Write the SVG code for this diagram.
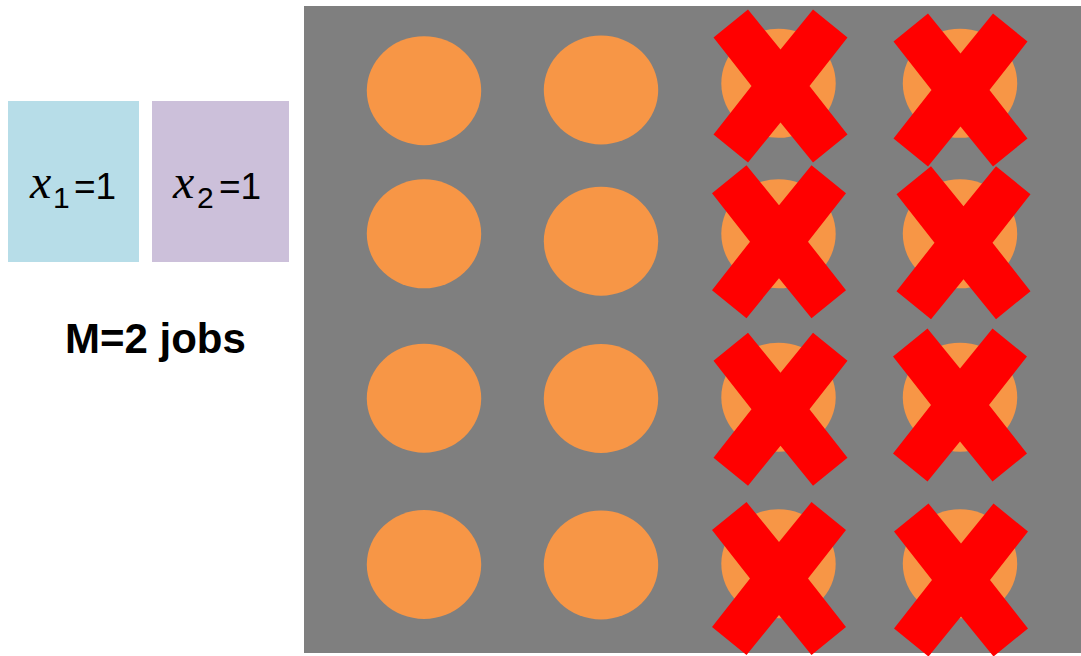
<svg xmlns="http://www.w3.org/2000/svg" xmlns:xlink="http://www.w3.org/1999/xlink" width="1081" height="656" viewBox="0 0 1081 656">
  <style>
    .dot { fill: #F79646; }
    .cross { fill: #FF0000; }
    .lbl { font-family: "Liberation Sans", Arial, sans-serif; font-size: 37px; fill: #000; }
    .var { font-family: "Liberation Serif", "Times New Roman", serif; font-style: italic; font-size: 48px; fill: #000; }
    .sub { font-family: "Liberation Sans", Arial, sans-serif; font-size: 30px; fill: #000; }
    .title { font-family: "Liberation Sans", Arial, sans-serif; font-weight: bold; font-size: 42px; fill: #000; }
  </style>
  <defs>
    <path id="x" d="M-67,-48.5 L-32.5,-76.5 L0,-36.5 L32.5,-76.5 L67,-48.5 L29,0 L67,48.5 L32.5,76.5 L0,36.5 L-32.5,76.5 L-67,48.5 L-29,0 Z"/>
  </defs>
  <rect width="1081" height="656" fill="#FFFFFF"/>

  <g id="job1">
    <rect x="8" y="101" width="131" height="161" fill="#B7DDE8"/>
    <text class="var" x="30" y="198">x</text>
    <text class="sub" x="53" y="208">1</text>
    <text class="lbl" x="74" y="199">=1</text>
  </g>
  <g id="job2">
    <rect x="152" y="101" width="137" height="161" fill="#CCC0DA"/>
    <text class="var" x="173" y="198">x</text>
    <text class="sub" x="197" y="208">2</text>
    <text class="lbl" x="219" y="199">=1</text>
  </g>
  <g id="title">
    <text class="title" x="65" y="353">M=2 jobs</text>
  </g>

  <g id="grid">
    <rect x="304" y="6" width="777" height="647" fill="#7F7F7F"/>
    <ellipse class="dot" cx="424" cy="90.7" rx="57.2" ry="54.5"/>
    <ellipse class="dot" cx="424" cy="233.8" rx="57.2" ry="54.5"/>
    <ellipse class="dot" cx="424" cy="398.2" rx="57.2" ry="54.5"/>
    <ellipse class="dot" cx="424" cy="564.5" rx="57.2" ry="54.5"/>
    <ellipse class="dot" cx="601" cy="90" rx="57.2" ry="54.5"/>
    <ellipse class="dot" cx="601" cy="241.2" rx="57.2" ry="54.5"/>
    <ellipse class="dot" cx="601" cy="398.5" rx="57.2" ry="54.5"/>
    <ellipse class="dot" cx="601" cy="565" rx="57.2" ry="54.5"/>
    <ellipse class="dot" cx="778.5" cy="83.3" rx="57.2" ry="54.5"/>
    <ellipse class="dot" cx="778.5" cy="233.8" rx="57.2" ry="54.5"/>
    <ellipse class="dot" cx="778.5" cy="397.2" rx="57.2" ry="54.5"/>
    <ellipse class="dot" cx="778.5" cy="563.8" rx="57.2" ry="54.5"/>
    <ellipse class="dot" cx="960" cy="83.3" rx="57.2" ry="54.5"/>
    <ellipse class="dot" cx="960" cy="233.8" rx="57.2" ry="54.5"/>
    <ellipse class="dot" cx="960" cy="397.2" rx="57.2" ry="54.5"/>
    <ellipse class="dot" cx="960" cy="563.8" rx="57.2" ry="54.5"/>
  </g>
  <g id="crosses">
    <use href="#x" class="cross" transform="translate(780.5,86)"/>
    <use href="#x" class="cross" transform="translate(960.5,90)"/>
    <use href="#x" class="cross" transform="translate(779,241.7)"/>
    <use href="#x" class="cross" transform="translate(963.5,242.7)"/>
    <use href="#x" class="cross" transform="translate(780.5,409.3)"/>
    <use href="#x" class="cross" transform="translate(960,405)"/>
    <use href="#x" class="cross" transform="translate(779,578.5)"/>
    <use href="#x" class="cross" transform="translate(961,580)"/>
  </g>
</svg>
